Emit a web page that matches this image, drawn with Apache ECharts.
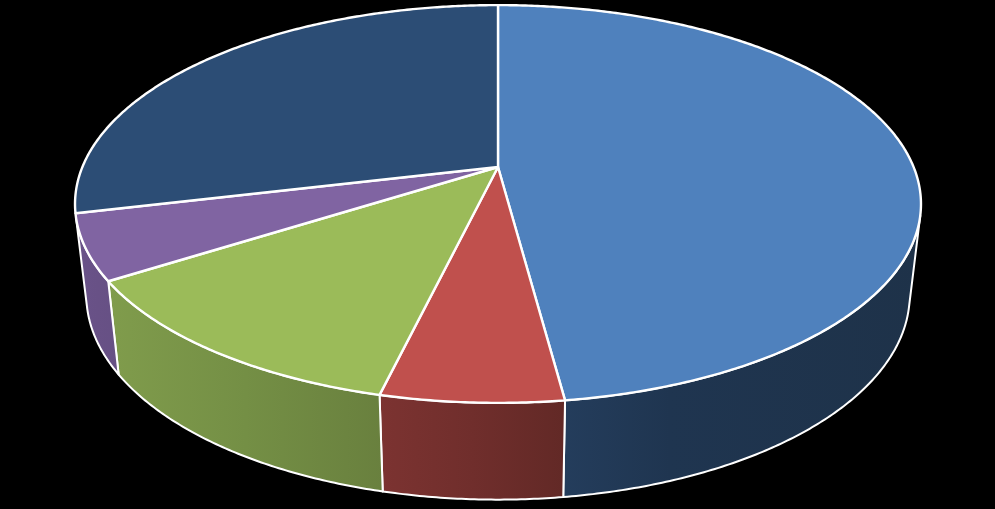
<!DOCTYPE html>
<html>
<head>
<meta charset="utf-8">
<style>html,body{margin:0;padding:0;background:#000}#c{width:995px;height:509px}</style>
<script src="https://cdn.jsdelivr.net/npm/echarts@6/dist/echarts.min.js"></script>
</head>
<body>
<div id="c"></div>
<script>
// Slice shares in percent, clockwise from 12 o'clock
const categories = ['Slice 1', 'Slice 2', 'Slice 3', 'Slice 4', 'Slice 5'];
const values = [47.9, 5.85, 12.25, 5.3, 28.7];
const topColors = ['#4F81BD', '#C0504D', '#9BBB59', '#8064A2', '#2C4D75'];
const wallStops = [
  ['#243D5C', '#1F3550', '#1E3249'],
  ['#7C3331', '#702E2C', '#622926'],
  ['#809C4C', '#748F45', '#69803E'],
  ['#6A5389', '#685186', '#665084'],
  ['#223B5A', '#223B5A', '#223B5A']
];

// Perspective projection of the disc
const view = {
  cx: 498, k: 0.186,
  top: { cy: 167, ax: 415.6, ay: 192 },
  bottom: { cy: 257, ax: 404.5, ay: 197.5 },
  wallFrom: 104, wallTo: 255.5
};
const rad = d => d * Math.PI / 180;
function project(face, deg) {
  const s = Math.sin(rad(deg)), c = Math.cos(rad(deg)), w = 1 + view.k * c;
  return [view.cx + face.ax * s / w, face.cy - face.ay * c / w];
}
function arc(face, a, b) {
  const n = Math.max(2, Math.ceil(Math.abs(b - a) * 2)), pts = [];
  for (let i = 0; i <= n; i++) pts.push(project(face, a + (b - a) * i / n));
  return pts;
}
const total = values.reduce((p, v) => p + v, 0);
function sliceRange(i) {
  let before = 0;
  for (let j = 0; j < i; j++) before += values[j];
  return [before / total * 360, (before + values[i]) / total * 360];
}
function renderWall(params) {
  const i = params.dataIndex;
  const r = sliceRange(i);
  const a = Math.max(r[0], view.wallFrom), b = Math.min(r[1], view.wallTo);
  if (b <= a) return { type: 'group', children: [] };
  const pts = arc(view.top, a, b).concat(arc(view.bottom, b, a));
  // The blue wall lies to the right of the pie's front, so its lighter end faces left as well
  const stops = wallStops[i];
  return {
    type: 'polygon',
    shape: { points: pts },
    style: {
      fill: new echarts.graphic.LinearGradient(0, 0, 1, 0, [
        { offset: 0, color: stops[0] },
        { offset: i === 0 ? 0.3 : 0.5, color: stops[1] },
        { offset: 1, color: stops[2] }
      ]),
      stroke: '#fff', lineWidth: 2, lineJoin: 'round'
    }
  };
}
function renderTop(params) {
  const i = params.dataIndex;
  const r = sliceRange(i);
  const pts = [[view.cx, view.top.cy]].concat(arc(view.top, r[0], r[1]));
  return {
    type: 'polygon',
    shape: { points: pts },
    style: { fill: topColors[i], stroke: '#fff', lineWidth: 2.4, lineJoin: 'round' }
  };
}
const seriesData = categories.map((n, i) => ({ name: n, value: values[i] }));
const chart = echarts.init(document.getElementById('c'), null, { renderer: 'canvas' });
chart.setOption({
  backgroundColor: '#000',
  animation: false,
  series: [
    { type: 'custom', coordinateSystem: 'none', z: 1, silent: true, renderItem: renderWall, data: seriesData },
    { type: 'custom', coordinateSystem: 'none', z: 2, silent: true, renderItem: renderTop, data: seriesData }
  ]
});
</script>
</body>
</html>
